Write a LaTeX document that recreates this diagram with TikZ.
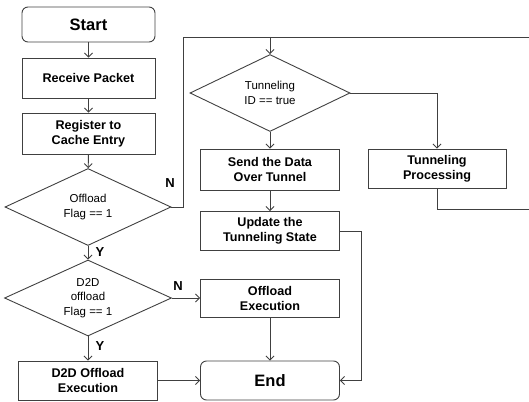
\documentclass[tikz,border=0pt]{standalone}
\usepackage{fontspec}
\setmainfont{Liberation Sans}
\usetikzlibrary{shapes.geometric, arrows.meta, positioning}

\tikzset{
    box/.style={draw=black!75, line width=0.9pt, rectangle, minimum width=139pt,
        minimum height=40pt, align=center, font=\fontsize{12.6}{15}\selectfont\bfseries},
    term/.style={box, rounded corners=6pt, font=\fontsize{16.5}{20}\selectfont\bfseries},
    decision/.style={draw=black!75, line width=0.9pt, diamond, aspect=2.1, inner sep=0pt,
        minimum width=166pt, minimum height=77pt, align=center,
        font=\fontsize{11.5}{14.5}\selectfont},
    line/.style={draw=black!75, line width=0.9pt},
    arr/.style={line, -{Straight Barb[length=4pt,width=8pt]}},
    yn/.style={font=\fontsize{13}{15}\selectfont\bfseries}
}

\begin{document}
\begin{tikzpicture}[x=1pt, y=-1pt]
    \useasboundingbox (0,0) rectangle (529,401);

    % left column
    \node[term, minimum width=133pt, minimum height=35pt] (start) at (88.5,24.5) {Start};
    \node[box, minimum width=133pt] (recv) at (88.5,78) {Receive Packet};
    \node[box, minimum width=133pt, minimum height=41pt] (reg) at (88.5,133.5) {Register to\\Cache Entry};
    \node[decision] (offl) at (88,207) {Offload\\Flag == 1};
    \node[decision, minimum width=167pt, minimum height=76pt] (d2d) at (88,298) {D2D\\offload\\Flag == 1};
    \node[box, minimum height=39pt] (d2dexec) at (88,380.5) {D2D Offload\\Execution};

    % middle column
    \node[decision, minimum width=160pt] (tun) at (270,93) {Tunneling\\ID == true};
    \node[box, minimum height=41pt] (send) at (270,169.5) {Send the Data\\Over Tunnel};
    \node[box, minimum height=39pt] (upd) at (270,231) {Update the\\Tunneling State};
    \node[box, minimum height=38pt] (offexec) at (270,298) {Offload\\Execution};
    \node[term, minimum height=39pt] (endn) at (270,380.5) {End};

    % right column
    \node[box, minimum width=138pt, minimum height=39pt] (tproc) at (437,168.5) {Tunneling\\Processing};

    \coordinate (ntop) at (183,37);
    \coordinate (rtop) at (529,37);
    \coordinate (rmid) at (529,209);
    \coordinate (updr) at (361,231);

    \draw[arr] (start) -- (recv);
    \draw[arr] (recv) -- (reg);
    \draw[arr] (reg) -- (offl);
    \draw[arr] (offl) -- (d2d);
    \draw[arr] (d2d) -- (d2dexec);
    \draw[arr] (d2d) -- (offexec);
    \draw[arr] (d2dexec) -- (endn);
    \draw[arr] (offexec) -- (endn);
    \draw[arr] (tun) -- (send);
    \draw[arr] (send) -- (upd);
    \draw[arr] (tun.east) -| (tproc.north);
    \draw[arr] (upd.east) -- (updr) |- (endn.east);
    \draw[line] (offl.east) -| (ntop) -- (rtop);
    \draw[arr] (tun.north |- ntop) -- (tun.north);
    \draw[line] (tproc.south) |- (rmid);

    \node[yn] (n1) at (170,183) {N};
    \node[yn] (y1) at (100,252) {Y};
    \node[yn] (n2) at (178,286) {N};
    \node[yn] (y2) at (100,346) {Y};
\end{tikzpicture}
\end{document}
